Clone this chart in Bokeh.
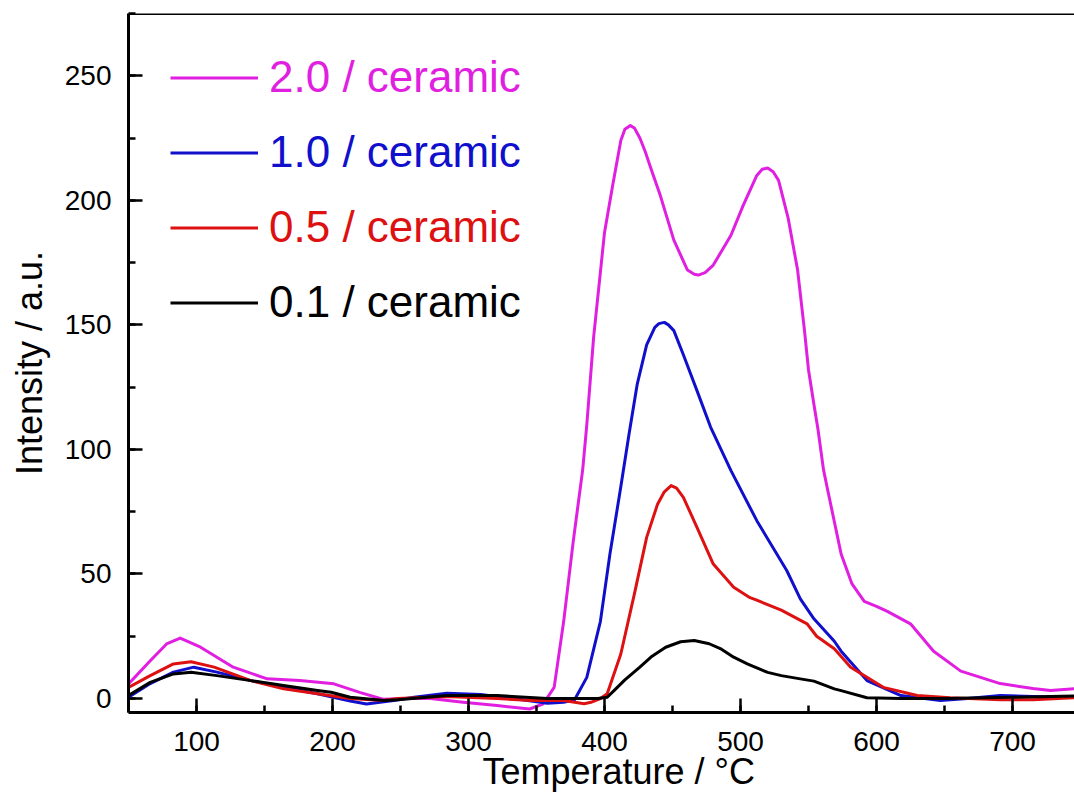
from bokeh.plotting import figure
from bokeh.models import (Legend, LegendItem, SingleIntervalTicker, Range1d, Span, Title)
from bokeh.embed import file_html
from bokeh.resources import INLINE

# ---------------- data ----------------
x_20 = [50, 66, 78, 88, 103, 127, 152, 176, 201, 220, 237, 255, 272, 296, 321, 345, 355,
        363, 370, 377, 384, 387, 392, 400, 406, 412, 415, 419, 422, 426, 430, 434, 441, 451,
        461, 466, 469, 474, 480, 493, 502, 512, 516, 520, 524, 528, 535, 542, 547, 550, 554,
        557, 561, 564, 574, 582, 591, 600, 608, 625, 642, 662, 691, 715, 728, 746]
y_20 = [5.9, 15.2, 21.9, 24.3, 20.6, 12.6, 7.9, 7.2, 5.9, 2.5, -0.3, 0, 0, -1.5, -2.8, -4.2, -2.1,
        4.5, 31, 63, 92, 110, 145, 187, 206, 224, 228.5, 230, 229, 225, 219.5, 213, 202, 184,
        172, 170.3, 170, 171, 174, 186, 198, 210, 212.5, 213, 211.5, 208, 193, 172, 148, 132, 118,
        108, 92, 84, 58, 46, 39, 37, 35, 30, 19, 11, 6, 4, 3.2, 4]

x_10 = [50, 66, 83, 98, 115, 140, 164, 189, 213, 225, 245, 260, 284, 309, 333, 358, 370, 378,
        387, 397, 404, 412, 418, 424, 431, 437, 440, 444, 447, 451, 458, 468, 478, 493, 512,
        534, 544, 554, 569, 574, 593, 618, 647, 667, 691, 715, 746]
y_10 = [0.5, 6, 10.6, 12.6, 10.6, 7.2, 4.5, 1.9, -1.0, -2.2, -0.8, 0.5, 2.1, 1.6, 0, -1.9, -1.5, -0.5,
        8.5, 31, 58, 85, 106, 126, 142, 149, 150.5, 151, 150, 147.7, 138, 123.6, 109, 91.5, 71.4,
        51.4, 40, 32, 23, 19, 7.2, 1.2, -0.8, 0, 1.2, 0.8, 0.4]

x_05 = [50, 66, 83, 96, 113, 140, 164, 189, 213, 237, 248, 284, 321, 346, 370, 385, 390, 397,
        402, 412, 422, 431, 439, 444, 449, 453, 458, 468, 480, 495, 507, 512, 530, 549, 556,
        569, 581, 605, 630, 654, 691, 715, 746]
y_05 = [4.5, 9.2, 13.9, 14.8, 12.6, 7.2, 3.9, 1.9, 0, -0.8, 0, 0.8, 0, -0.8, -0.8, -2.1, -1.5, 0,
        1.9, 17.9, 42, 64.7, 78, 83, 85.5, 84.5, 80.8, 68.7, 54, 44.7, 40.5, 39.5, 35.5, 30, 25,
        20, 12.6, 4.5, 1.2, 0.3, -0.5, -0.5, 0.3]

x_01 = [50, 66, 83, 96, 115, 140, 164, 189, 199, 213, 238, 248, 284, 321, 358, 395, 402, 407,
        415, 426, 435, 445, 456, 466, 477, 486, 495, 505, 520, 530, 544, 554, 569, 574, 593,
        618, 650, 700, 746]
y_01 = [1.2, 6.5, 9.9, 10.6, 9.2, 7.2, 5.2, 3.2, 2.5, 0.5, -0.8, -0.5, 1.2, 1.2, 0, 0, 0.5, 3.2,
        7.5, 12.6, 17, 20.6, 22.8, 23.3, 22, 19.8, 16.6, 13.9, 10.5, 9.2, 7.9, 7.0, 3.9, 3.2, 0.3,
        0, 0, 0.5, 1.0]

labels = ["2.0 / ceramic", "1.0 / ceramic", "0.5 / ceramic", "0.1 / ceramic"]
colors = ["#E01FE0", "#1010CC", "#DD1111", "#000000"]
series = [(x_20, y_20), (x_10, y_10), (x_05, y_05), (x_01, y_01)]
x_title = "Temperature / °C"
y_title = "Intensity / a.u."

FONT = "Liberation Sans"

p = figure(width=1074, height=798, output_backend="svg", toolbar_location=None,
           x_range=Range1d(50, 745.6), y_range=Range1d(-5.6, 275),
           min_border_left=128, min_border_top=13, min_border_right=0, min_border_bottom=86,
           y_axis_label=y_title)
p.outline_line_color = None
p.grid.visible = False
p.background_fill_color = "white"
p.border_fill_color = "white"

p.xaxis.ticker = SingleIntervalTicker(interval=100, num_minor_ticks=2)
p.yaxis.ticker = SingleIntervalTicker(interval=50, num_minor_ticks=2)

for ax in (p.xaxis, p.yaxis):
    ax.axis_line_width = 3
    ax.axis_line_color = "black"
    ax.major_tick_in = 14
    ax.major_tick_out = 0
    ax.minor_tick_in = 7
    ax.minor_tick_out = 0
    ax.major_tick_line_width = 2.5
    ax.minor_tick_line_width = 2.5
    ax.major_tick_line_color = "black"
    ax.minor_tick_line_color = "black"
    ax.major_label_text_font = FONT
    ax.major_label_text_font_size = "28px"
    ax.major_label_text_color = "black"
    ax.axis_label_text_font = FONT
    ax.axis_label_text_font_size = "36px"
    ax.axis_label_text_font_style = "normal"
    ax.axis_label_text_color = "black"

p.xaxis.major_label_standoff = 19
p.yaxis.major_label_standoff = 17
p.yaxis.axis_label_standoff = 12

p.add_layout(Span(location=275, dimension="width", line_color="black", line_width=3))

# x-axis title, placed as in the reference (slightly right of the frame centre)
p.add_layout(Title(text=x_title, align="left", offset=354, standoff=-10,
                   text_font=FONT, text_font_size="36px", text_font_style="normal",
                   text_color="black"), "below")

renderers = []
for (xs, ys), c in zip(series, colors):
    r = p.line(xs, ys, line_color=c, line_width=3, line_join="round")
    renderers.append(r)

frame_h = 699
item_h = 75
for i, (lab, c, r) in enumerate(zip(labels, colors, renderers)):
    top_off = 26.5 + i * item_h
    leg = Legend(items=[LegendItem(label=lab, renderers=[r])],
                 location=(42, frame_h - top_off - item_h),
                 glyph_width=88, glyph_height=item_h, label_height=item_h,
                 label_standoff=11, padding=0, margin=0, spacing=0,
                 label_text_font=FONT, label_text_font_size="44px",
                 label_text_color=c, label_text_baseline="middle",
                 background_fill_alpha=0, border_line_alpha=0)
    p.add_layout(leg, "center")

open("out.html", "w").write(file_html(p, INLINE))
